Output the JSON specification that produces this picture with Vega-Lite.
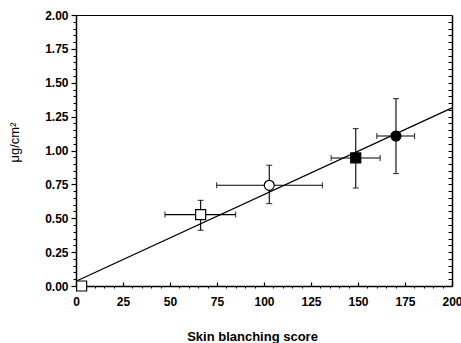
{
  "$schema": "https://vega.github.io/schema/vega-lite/v6.json",
  "autosize": "none",
  "width": 376,
  "height": 271,
  "padding": {"left": 76, "top": 15, "right": 9, "bottom": 57},
  "background": "white",
  "config": {
    "view": {"stroke": null},
    "axis": {"labelFont": "Liberation Sans", "titleFont": "Liberation Sans", "labelColor": "black", "titleColor": "black", "domainColor": "black", "tickColor": "black", "grid": false}
  },
  "datasets": {
    "obs": [
      {"formulation": "F0", "score": 3, "dose": 0.0},
      {"formulation": "F1", "score": 66.3, "dose": 0.527, "score_lo": 47.3, "score_hi": 84.9, "dose_lo": 0.411, "dose_hi": 0.632},
      {"formulation": "F2", "score": 102.8, "dose": 0.743, "score_lo": 74.8, "score_hi": 131.1, "dose_lo": 0.608, "dose_hi": 0.891},
      {"formulation": "F3", "score": 148.8, "dose": 0.945, "score_lo": 135.7, "score_hi": 161.8, "dose_lo": 0.723, "dose_hi": 1.162},
      {"formulation": "F4", "score": 170.2, "dose": 1.107, "score_lo": 160.0, "score_hi": 180.1, "dose_lo": 0.83, "dose_hi": 1.383}
    ],
    "fit": [
      {"score": 0, "dose": 0.035},
      {"score": 200, "dose": 1.315}
    ]
  },
  "resolve": {"axis": {"x": "independent", "y": "independent"}},
  "layer": [
    {
      "data": {"name": "fit"},
      "mark": {"type": "line", "color": "black", "strokeWidth": 1.3},
      "encoding": {
        "x": {"field": "score", "type": "quantitative", "scale": {"domain": [0, 200], "nice": false, "zero": false},
          "axis": {"orient": "bottom", "values": [0, 25, 50, 75, 100, 125, 150, 175, 200], "format": "d", "tickSize": -4, "domainWidth": 1.5, "tickWidth": 1.2, "labelPadding": 14, "labelFontSize": 12, "labelFontWeight": "bold", "labelFlush": false, "labelOverlap": false,
            "title": "Skin blanching score", "titleFontSize": 13, "titleFontWeight": "bold", "titleX": 176, "titleY": 54, "titleBaseline": "alphabetic", "titleAnchor": null, "titleAlign": "center"}},
        "y": {"field": "dose", "type": "quantitative", "scale": {"domain": [0, 2], "nice": false, "zero": false},
          "axis": {"orient": "left", "values": [0, 0.25, 0.5, 0.75, 1, 1.25, 1.5, 1.75, 2], "format": ".2f", "tickSize": 5, "domainWidth": 1.5, "tickWidth": 1.2, "labelPadding": 3, "labelFontSize": 12, "labelFontWeight": "bold", "labelFlush": false, "labelOverlap": false,
            "title": "μg/cm²", "titleFontSize": 13, "titleFontWeight": "normal", "titleAngle": -90, "titleX": -62, "titleY": 127, "titleAlign": "center", "titleBaseline": "middle", "titleAnchor": null}}
      }
    },
    {
      "data": {"name": "obs"},
      "mark": {"type": "rule", "color": "black", "strokeWidth": 1.1},
      "encoding": {
        "x": {"field": "score_lo", "type": "quantitative",
          "axis": {"orient": "bottom", "values": [5,10,15,20,30,35,40,45,55,60,65,70,80,85,90,95,105,110,115,120,130,135,140,145,155,160,165,170,180,185,190,195], "tickSize": 2, "labels": false, "domain": false, "title": null, "tickWidth": 1}},
        "x2": {"field": "score_hi"},
        "y": {"field": "dose", "type": "quantitative",
          "axis": {"orient": "left", "values": [0.05,0.1,0.15,0.2,0.3,0.35,0.4,0.45,0.55,0.6,0.65,0.7,0.8,0.85,0.9,0.95,1.05,1.1,1.15,1.2,1.3,1.35,1.4,1.45,1.55,1.6,1.65,1.7,1.8,1.85,1.9,1.95], "tickSize": 3, "labels": false, "domain": false, "title": null, "tickWidth": 1}}
      }
    },
    {
      "data": {"name": "obs"},
      "mark": {"type": "rule", "color": "black", "strokeWidth": 1.1},
      "encoding": {
        "x": {"field": "score", "type": "quantitative",
          "axis": {"orient": "top", "ticks": false, "labels": false, "domainWidth": 1.2, "title": null}},
        "y": {"field": "dose_lo", "type": "quantitative",
          "axis": {"orient": "right", "values": [0.05,0.1,0.15,0.2,0.25,0.3,0.35,0.4,0.45,0.5,0.55,0.6,0.65,0.7,0.75,0.8,0.85,0.9,0.95,1,1.05,1.1,1.15,1.2,1.25,1.3,1.35,1.4,1.45,1.5,1.55,1.6,1.65,1.7,1.75,1.8,1.85,1.9,1.95], "tickSize": -4, "labels": false, "domainWidth": 1.5, "title": null, "tickWidth": 1}},
        "y2": {"field": "dose_hi"}
      }
    },
    {
      "data": {"name": "obs"},
      "mark": {"type": "tick", "orient": "vertical", "color": "black", "size": 6, "thickness": 1.2},
      "encoding": {
        "x": {"field": "score_lo", "type": "quantitative", "axis": null},
        "y": {"field": "dose", "type": "quantitative", "axis": null}
      }
    },
    {
      "data": {"name": "obs"},
      "mark": {"type": "tick", "orient": "vertical", "color": "black", "size": 6, "thickness": 1.2},
      "encoding": {
        "x": {"field": "score_hi", "type": "quantitative", "axis": null},
        "y": {"field": "dose", "type": "quantitative", "axis": null}
      }
    },
    {
      "data": {"name": "obs"},
      "mark": {"type": "tick", "orient": "horizontal", "color": "black", "size": 6, "thickness": 1.2},
      "encoding": {
        "x": {"field": "score", "type": "quantitative", "axis": null},
        "y": {"field": "dose_lo", "type": "quantitative", "axis": null}
      }
    },
    {
      "data": {"name": "obs"},
      "mark": {"type": "tick", "orient": "horizontal", "color": "black", "size": 6, "thickness": 1.2},
      "encoding": {
        "x": {"field": "score", "type": "quantitative", "axis": null},
        "y": {"field": "dose_hi", "type": "quantitative", "axis": null}
      }
    },
    {
      "data": {"name": "obs"},
      "mark": {"type": "point", "filled": true, "stroke": "black", "strokeWidth": 1.2, "opacity": 1, "size": 100},
      "encoding": {
        "x": {"field": "score", "type": "quantitative", "axis": null},
        "y": {"field": "dose", "type": "quantitative", "axis": null},
        "shape": {"field": "formulation", "type": "nominal", "scale": {"domain": ["F0","F1","F2","F3","F4"], "range": ["square","square","circle","square","circle"]}, "legend": null},
        "fill": {"field": "formulation", "type": "nominal", "scale": {"domain": ["F0","F1","F2","F3","F4"], "range": ["white","white","white","black","black"]}, "legend": null}
      }
    }
  ]
}
